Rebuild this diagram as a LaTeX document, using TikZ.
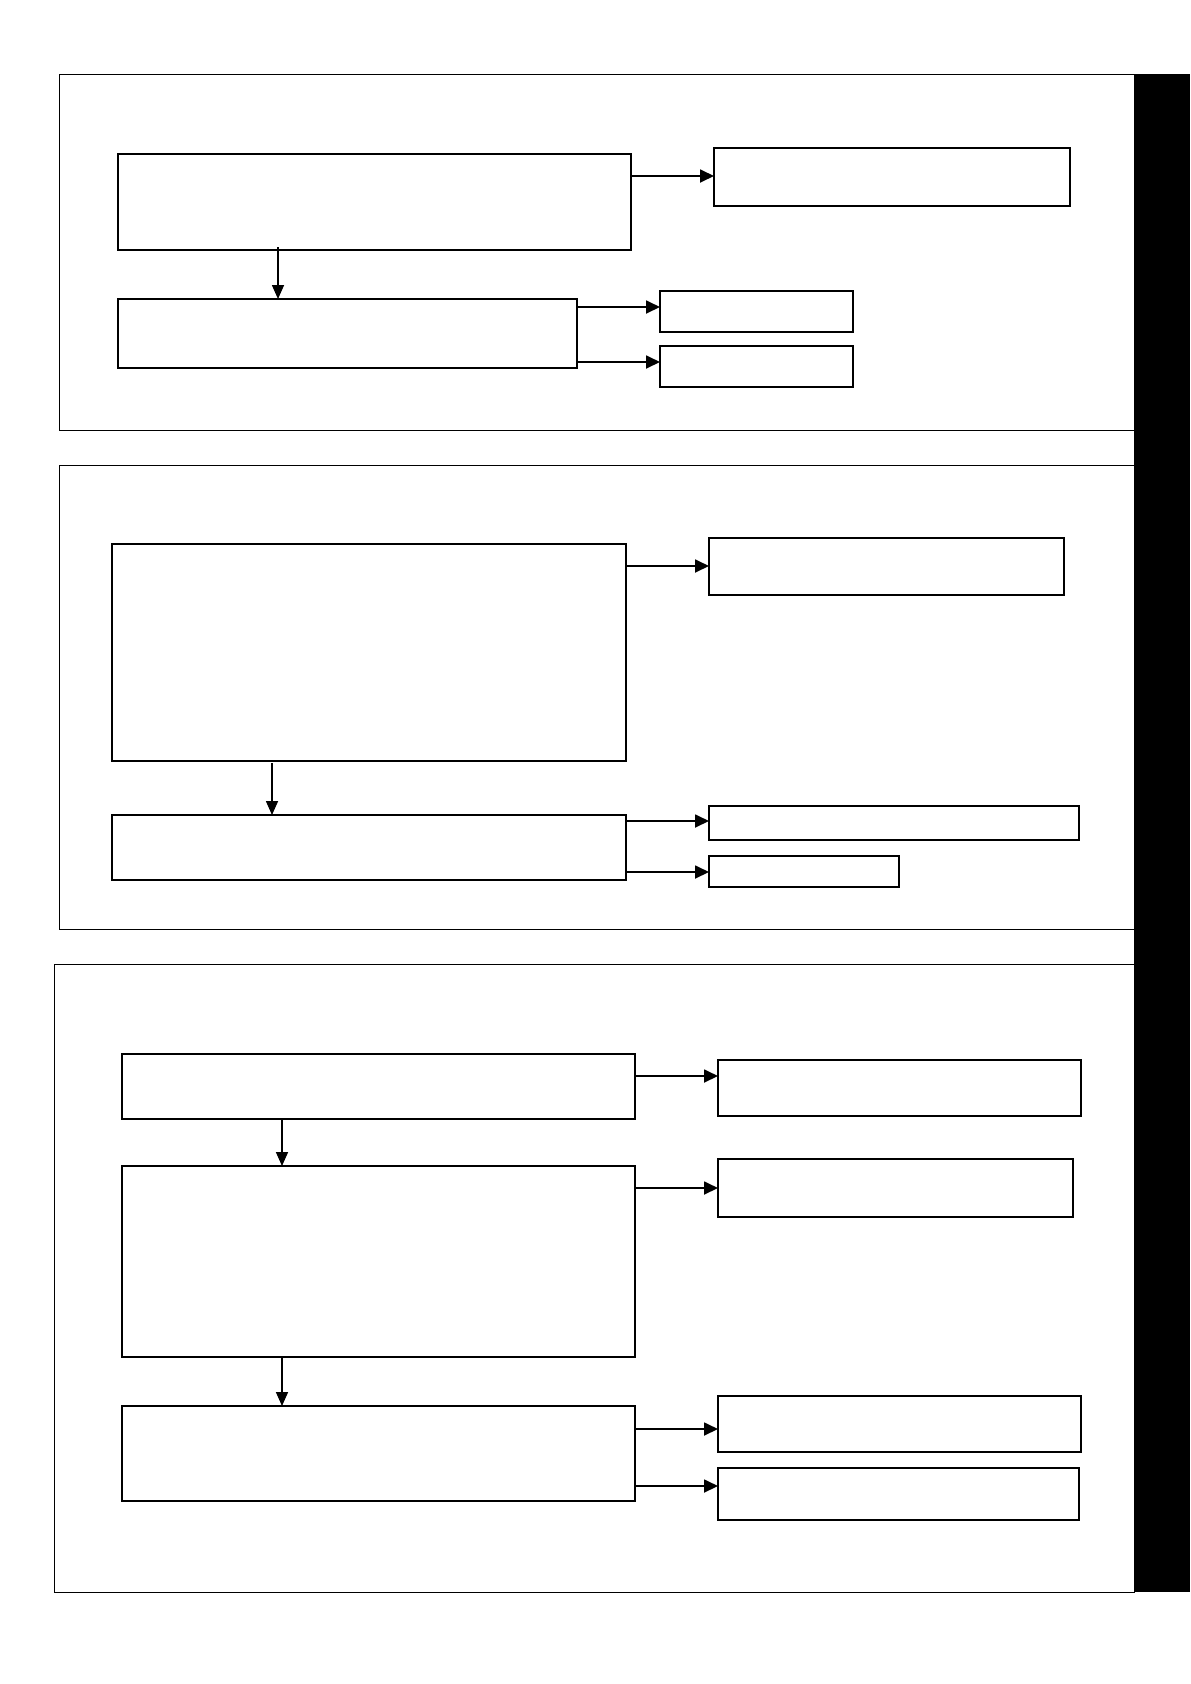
\documentclass[tikz,border=0pt]{standalone}
\usetikzlibrary{arrows.meta}
\begin{document}
\begin{tikzpicture}[x=1pt,y=-1pt,
  box/.style={draw=black,line width=2pt,inner sep=0pt,outer sep=0pt,anchor=north west},
  frame/.style={draw=black,line width=1pt},
  harr/.style={line width=1.8pt,-{Triangle[length=14pt,width=13pt]}},
  varr/.style={line width=1.6pt,-{Triangle[length=14pt,width=12pt]}}]
\useasboundingbox (0,0) rectangle (1191,1684);
\fill[white] (0,0) rectangle (1191,1684);
% frames
\draw[frame] (59,74) rectangle (1134,430);
\draw[frame] (59,465) rectangle (1134,929);
\draw[frame] (54,964) rectangle (1134,1592);
\fill[black] (1134,74) rectangle (1190,1592);
% ---- panel 1
\node[box,minimum width=513pt,minimum height=96pt] (pa1) at (118,154) {};
\node[box,minimum width=356pt,minimum height=58pt] (pb1) at (714,148) {};
\node[box,minimum width=459pt,minimum height=69pt] (pa2) at (118,299) {};
\node[box,minimum width=193pt,minimum height=41pt] (pc1) at (660,291) {};
\node[box,minimum width=193pt,minimum height=41pt] (pc2) at (660,346) {};
\draw[harr] (pa1.east |- 0,176) -- (pb1.west |- 0,176);
\draw[varr] ([yshift=3pt]278,0 |- pa1.south) -- (278,0 |- pa2.north);
\draw[harr] (pa2.east |- 0,307) -- (pc1.west |- 0,307);
\draw[harr] (pa2.east |- 0,362) -- (pc2.west |- 0,362);
% ---- panel 2
\node[box,minimum width=514pt,minimum height=217pt] (qa1) at (112,544) {};
\node[box,minimum width=355pt,minimum height=57pt] (qb1) at (709,538) {};
\node[box,minimum width=514pt,minimum height=65pt] (qa2) at (112,815) {};
\node[box,minimum width=370pt,minimum height=34pt] (qc1) at (709,806) {};
\node[box,minimum width=190pt,minimum height=31pt] (qc2) at (709,856) {};
\draw[harr] (qa1.east |- 0,566) -- (qb1.west |- 0,566);
\draw[varr] ([yshift=-2pt]272,0 |- qa1.south) -- (272,0 |- qa2.north);
\draw[harr] (qa2.east |- 0,821) -- (qc1.west |- 0,821);
\draw[harr] (qa2.east |- 0,872) -- (qc2.west |- 0,872);
% ---- panel 3
\node[box,minimum width=513pt,minimum height=65pt] (ra1) at (122,1054) {};
\node[box,minimum width=363pt,minimum height=56pt] (rb1) at (718,1060) {};
\node[box,minimum width=513pt,minimum height=191pt] (ra2) at (122,1166) {};
\node[box,minimum width=355pt,minimum height=58pt] (rb2) at (718,1159) {};
\node[box,minimum width=513pt,minimum height=95pt] (ra3) at (122,1406) {};
\node[box,minimum width=363pt,minimum height=56pt] (rc1) at (718,1396) {};
\node[box,minimum width=361pt,minimum height=52pt] (rc2) at (718,1468) {};
\draw[harr] (ra1.east |- 0,1076) -- (rb1.west |- 0,1076);
\draw[varr] (282,0 |- ra1.south) -- (282,0 |- ra2.north);
\draw[harr] (ra2.east |- 0,1188) -- (rb2.west |- 0,1188);
\draw[varr] (282,0 |- ra2.south) -- (282,0 |- ra3.north);
\draw[harr] (ra3.east |- 0,1429) -- (rc1.west |- 0,1429);
\draw[harr] (ra3.east |- 0,1486) -- (rc2.west |- 0,1486);
\end{tikzpicture}
\end{document}
